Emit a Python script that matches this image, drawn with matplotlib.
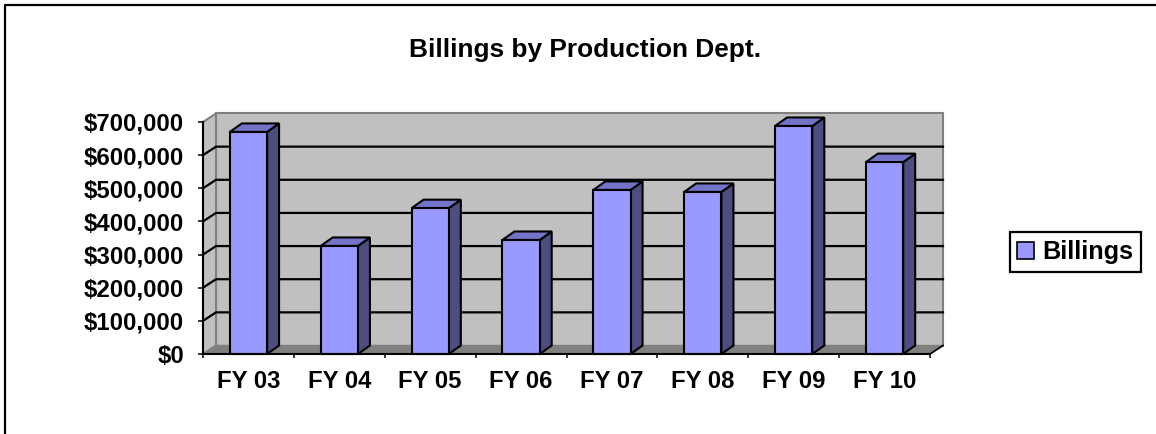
import matplotlib
matplotlib.use("Agg")
import matplotlib.pyplot as plt
from matplotlib.patches import Polygon, Rectangle, Patch
from matplotlib.lines import Line2D
from matplotlib.ticker import FixedLocator, FuncFormatter

# ---------------- data ----------------
categories = ["FY 03", "FY 04", "FY 05", "FY 06", "FY 07", "FY 08", "FY 09", "FY 10"]
billings = [670000, 326000, 440000, 344000, 495000, 489000, 688000, 579000]
y_ticks = [0, 100000, 200000, 300000, 400000, 500000, 600000, 700000]
title = "Billings by Production Dept."
series_name = "Billings"

# ---------------- style ----------------
FONT = "Liberation Sans"
W, H, DPI = 1156, 434, 100
FRONT = "#9999FF"
TOP = "#7373C8"
SIDE = "#4D4D80"
WALL = "#C0C0C0"
FLOOR = "#808080"
EDGE_GRAY = "#808080"
DEPTH_PX = (13, 8.5)     # wall depth offset in pixels (right, up)
BAR_DEPTH_PX = (12, 8.5)
BAR_W = 0.41

plt.rcParams["font.family"] = [FONT, "DejaVu Sans"]

fig = plt.figure(figsize=(W / DPI, H / DPI), dpi=DPI)
fig.patch.set_facecolor("white")

# axes rectangle = front plane of the 3D plot
left_px, right_px, bottom_px, top_px = 203, 930, 354, 122
ax = fig.add_axes([left_px / W, (H - bottom_px) / H,
                   (right_px - left_px) / W, (bottom_px - top_px) / H])
n = len(categories)
ymax = y_ticks[-1]
ax.set_xlim(0, n)
ax.set_ylim(0, ymax)
ax.patch.set_visible(False)

# pixel -> data conversion for the depth offset
ax_w_px = (right_px - left_px)
ax_h_px = (bottom_px - top_px)
def depth(px):
    return px[0] * n / ax_w_px, px[1] * ymax / ax_h_px

ddx, ddy = depth(DEPTH_PX)
bdx, bdy = depth(BAR_DEPTH_PX)

# back wall
ax.add_patch(Polygon([(ddx, ddy), (n + ddx, ddy), (n + ddx, ymax + ddy), (ddx, ymax + ddy)],
                     closed=True, fc=WALL, ec=EDGE_GRAY, lw=1.5, clip_on=False, zorder=0.5))
# side wall
ax.add_patch(Polygon([(0, 0), (ddx, ddy), (ddx, ymax + ddy), (0, ymax)],
                     closed=True, fc=WALL, ec=EDGE_GRAY, lw=1.5, clip_on=False, zorder=0.5))
# floor
ax.add_patch(Polygon([(0, 0), (n, 0), (n + ddx, ddy), (ddx, ddy)],
                     closed=True, fc=FLOOR, ec=FLOOR, lw=1.0, clip_on=False, zorder=0.6))
ax.plot([n, n + ddx], [0, ddy], color="black", lw=1.2, clip_on=False, zorder=0.7)

# gridlines on side + back wall
for v in y_ticks[1:-1]:
    ax.plot([0, ddx, n + ddx], [v, v + ddy, v + ddy], color="black", lw=1.6,
            clip_on=False, zorder=0.8, solid_joinstyle="miter")

# bars
for i, v in enumerate(billings):
    x0 = i + 0.5 - BAR_W / 2
    x1 = x0 + BAR_W
    ax.add_patch(Polygon([(x1, 0), (x1 + bdx, bdy), (x1 + bdx, v + bdy), (x1, v)],
                         closed=True, fc=SIDE, ec="black", lw=1.5, clip_on=False, zorder=1))
    ax.add_patch(Polygon([(x0, v), (x1, v), (x1 + bdx, v + bdy), (x0 + bdx, v + bdy)],
                         closed=True, fc=TOP, ec="black", lw=1.5, clip_on=False, zorder=1))
    ax.add_patch(Rectangle((x0, 0), BAR_W, v, fc=FRONT, ec="black", lw=1.5,
                           clip_on=False, zorder=1.1))

# spines
for s in ("top", "right"):
    ax.spines[s].set_visible(False)
for s in ("left", "bottom"):
    ax.spines[s].set_color("black")
    ax.spines[s].set_linewidth(1.5)
    ax.spines[s].set_zorder(3)

# y ticks
ax.yaxis.set_major_locator(FixedLocator(y_ticks))
ax.yaxis.set_major_formatter(FuncFormatter(lambda v, p: f"${v:,.0f}"))
ax.tick_params(axis="y", which="major", direction="out", length=3.6, width=1.1,
               pad=10, labelsize=17.3, colors="black")
for lab in ax.get_yticklabels():
    lab.set_fontweight("bold")

# x ticks: marks at boundaries, labels at centers
ax.xaxis.set_major_locator(FixedLocator(list(range(n + 1))))
ax.xaxis.set_major_formatter(FuncFormatter(lambda v, p: ""))
ax.xaxis.set_minor_locator(FixedLocator([i + 0.5 for i in range(n)]))
ax.set_xticklabels(categories, minor=True)
ax.tick_params(axis="x", which="major", direction="out", length=3, width=1.1, colors="black")
ax.tick_params(axis="x", which="minor", length=0, pad=11.5, labelsize=17.2)
for lab in ax.get_xticklabels(minor=True):
    lab.set_fontweight("bold")

# title
fig.text(585 / W, 1 - 57 / H, title, ha="center", va="baseline",
         fontsize=18.9, fontweight="bold", color="black")

# legend
leg = fig.legend(handles=[Patch(fc=FRONT, ec="black", lw=1.2)], labels=[series_name],
                 loc="center", bbox_to_anchor=(1075.5 / W, 1 - 252 / H),
                 frameon=True, fancybox=False, framealpha=1, edgecolor="black",
                 prop={"family": FONT, "weight": "bold", "size": 18.2},
                 handlelength=0.65, handleheight=0.65, handletextpad=0.35,
                 borderpad=0.3, borderaxespad=0)
leg.get_frame().set_linewidth(1.6)

# chart-area border (left and top edges visible)
fig.add_artist(Line2D([5 / W, 5 / W, 1], [0, 1 - 5 / H, 1 - 5 / H],
                      transform=fig.transFigure, color="black", lw=1.6))

fig.savefig("out.png", dpi=DPI)
